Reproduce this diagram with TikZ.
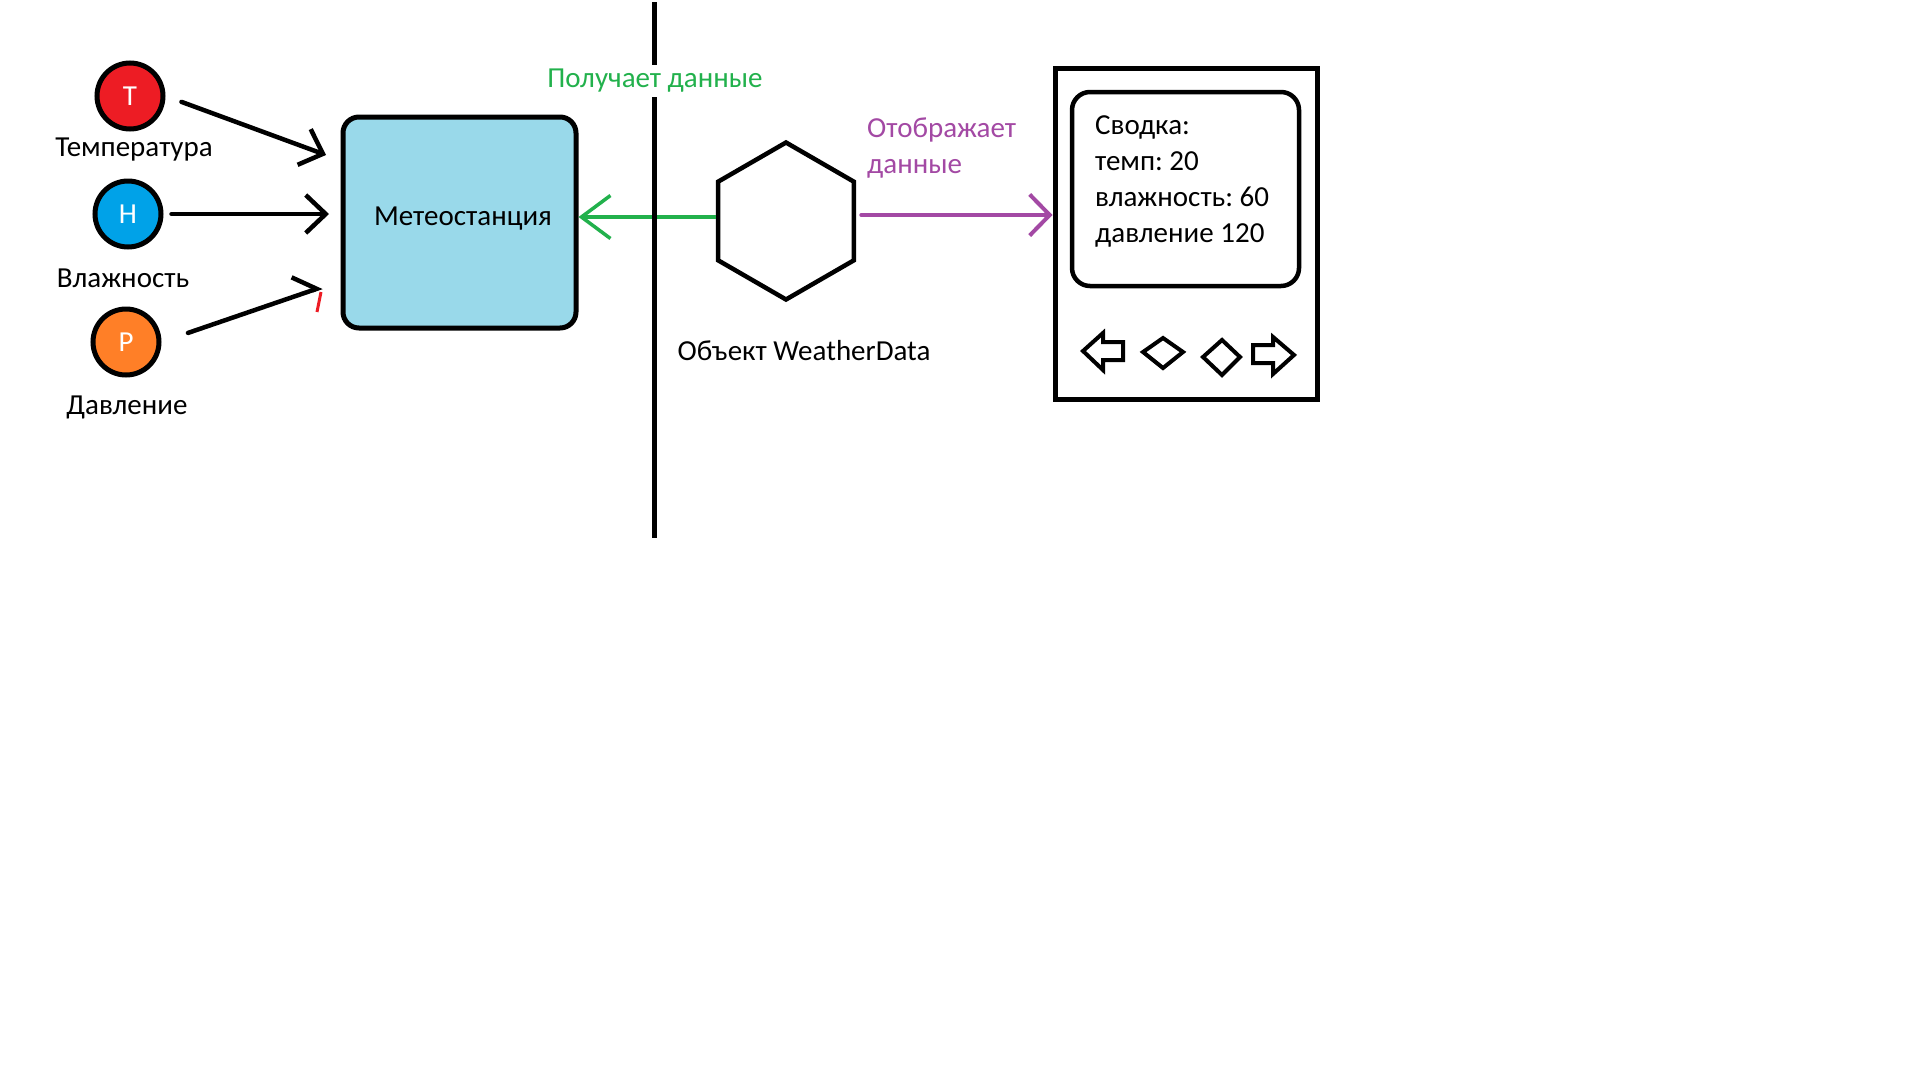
\documentclass[tikz,border=0pt]{standalone}
\usepackage{fontspec}
\setmainfont{Carlito}
\usetikzlibrary{arrows.meta,shapes.geometric}

\definecolor{paintred}{HTML}{ED1C24}
\definecolor{paintblue}{HTML}{00A2E8}
\definecolor{paintorange}{HTML}{FF7F27}
\definecolor{paintsky}{HTML}{99D9EA}
\definecolor{paintgreen}{HTML}{22B14C}
\definecolor{paintpurple}{HTML}{A349A4}

\begin{document}
\frenchspacing
\begin{tikzpicture}[x=1pt,y=-1pt,
        every node/.style={font=\fontsize{29}{36}\selectfont, inner sep=0pt},
        sensor/.style={circle, draw, line width=5pt, minimum size=66pt, text=white},
        station/.style={draw, line width=5pt, rounded corners=16pt, fill=paintsky,
            minimum width=233pt, minimum height=211pt},
        feed/.style={line width=4.5pt, line cap=round,
            -{Straight Barb[length=20pt,width=38pt]}},
        button/.style={line width=4pt}]

        \fill [white] (0,0) rectangle (1910,1074) ;
        \useasboundingbox (0,0) rectangle (1910,1074) ;

        % sensors
        \node [sensor, fill=paintred] (temp) at (130,96) {T} ;
        \node (templbl) at (134,150) {Температура} ;
        \node [sensor, fill=paintblue] (hum) at (128,214) {H} ;
        \node (humlbl) at (123,278) {Влажность} ;
        \node [sensor, fill=paintorange] (pres) at (126,342) {P} ;
        \node (preslbl) at (127,407) {Давление} ;

        \node [station] (station) at (459.5,222.5) {} ;
        \node (stationlbl) at (463,219) {Метеостанция} ;

        \coordinate (tipT) at (326,155) ;
        \coordinate (tipH) at (329,214) ;
        \coordinate (tipP) at (322,287) ;
        \coordinate (tickP) at (321,292) ;

        \draw [feed, shorten <=17pt] (temp.east) to (tipT) ;
        \draw [feed, shorten <=8pt] (hum.east) to (tipH) ;
        \draw [line width=4.5pt, line cap=round, shorten <=28pt,
            -{Straight Barb[left,length=20pt,width=38pt]}] (pres.east) to (tipP) ;
        \draw [paintred, line width=3pt] (tickP) to ++(-4,20) ;

        % weather data object
        \node [regular polygon, regular polygon sides=6, shape border rotate=30,
            draw, line width=4.5pt, minimum size=157pt] (wdata) at (786,221) {} ;
        \node (wdatalbl) at (804,351) {Объект WeatherData} ;

        \draw [paintgreen, line width=3.5pt,
            -{Straight Barb[length=29pt,width=43pt]}] ([yshift=4pt]wdata.west) to ([yshift=4pt]wdata.west -| station.east) ;

        % divider
        \coordinate (divtop) at (654,2) ;
        \coordinate (divbot) at (654,538) ;
        \draw [line width=5pt] (divtop) to (divbot) ;
        \node [text=paintgreen, fill=white, inner ysep=4pt] (getlbl) at (655,81) {Получает данные} ;

        % display
        \node [draw, line width=5pt, minimum width=262pt, minimum height=331pt] (device) at (1186,233.5) {} ;
        \node [draw, line width=4.5pt, rounded corners=18pt, minimum width=227pt,
            minimum height=194pt] (screen) at (1185.5,189) {} ;
        \node [anchor=west, align=left] (summary) at (1095,181) {Сводка:\\темп: 20\\влажность: 60\\давление 120} ;

        \draw [paintpurple, line width=4pt, line cap=round, shorten <=5pt,
            -{Straight Barb[length=20pt,width=41pt]}] ([yshift=6pt]wdata.east) to ([yshift=6pt]wdata.east -| device.west) ;
        \node [text=paintpurple, anchor=west, align=left] (showlbl) at (867,148) {Отображает\\данные} ;

        % buttons
        \draw [button] (1083,351) -- (1103,333) -- (1103,342) -- (1123,342) -- (1123,360)
            -- (1103,360) -- (1103,370) -- cycle ;
        \draw [button] (1143,352) -- (1163,338) -- (1183,352) -- (1163,368) -- cycle ;
        \draw [button] (1203,357) -- (1222,340) -- (1240,357) -- (1222,375) -- cycle ;
        \draw [button] (1253,345) -- (1273,345) -- (1273,337) -- (1294,355) -- (1273,374)
            -- (1273,363) -- (1253,363) -- cycle ;

\end{tikzpicture}
\end{document}
